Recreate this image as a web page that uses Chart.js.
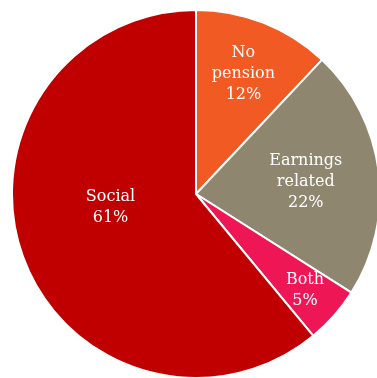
<!DOCTYPE html>
<html>
<head>
<meta charset="utf-8">
<script src="https://cdn.jsdelivr.net/npm/chart.js@4/dist/chart.umd.min.js"></script>
<style>
html,body{margin:0;padding:0;background:#fff;overflow:hidden;width:377px;height:378px;}
#wrap{position:absolute;left:0;top:0;width:382px;height:380px;}
</style>
</head>
<body>
<div id="wrap"><canvas id="c" width="382" height="380"></canvas></div>
<script>
const categories = ["No pension", "Earnings related", "Both", "Social"];
const labelLines = [["No", "pension"], ["Earnings", "related"], ["Both"], ["Social"]];
const values = [12, 22, 5, 61];
const colors = ["#F15A22", "#8F8670", "#EE1654", "#C00000"];

// label placement: fraction of radius and angle offset (deg) from slice middle
const labelPlace = [
  {frac: 0.70, dAng: 0},
  {frac: 0.60, dAng: 1},
  {frac: 0.79, dAng: 0},
  {frac: 0.47, dAng: 11}
];

const labelPlugin = {
  id: 'sliceLabels',
  afterDatasetsDraw(chart) {
    const ctx = chart.ctx;
    const meta = chart.getDatasetMeta(0);
    ctx.save();
    ctx.fillStyle = '#ffffff';
    ctx.font = '16px "DejaVu Serif", serif';
    ctx.textAlign = 'center';
    ctx.textBaseline = 'middle';
    meta.data.forEach((arc, i) => {
      const p = arc.getProps(['x','y','startAngle','endAngle','outerRadius'], true);
      const mid = (p.startAngle + p.endAngle) / 2 + labelPlace[i].dAng * Math.PI / 180;
      const r = p.outerRadius * labelPlace[i].frac;
      const cx = p.x + Math.cos(mid) * r;
      const cy = p.y + Math.sin(mid) * r;
      const lines = labelLines[i].concat([values[i] + '%']);
      const lh = 21;
      const y0 = cy - (lines.length - 1) * lh / 2;
      lines.forEach((t, k) => ctx.fillText(t, cx, y0 + k * lh));
    });
    ctx.restore();
  }
};

new Chart(document.getElementById('c'), {
  type: 'pie',
  data: {
    labels: categories,
    datasets: [{
      data: values,
      backgroundColor: colors,
      borderColor: '#ffffff',
      borderWidth: 2
    }]
  },
  options: {
    responsive: false,
    animation: false,
    layout: {padding: {left: 11, top: 9, right: 1, bottom: 1}},
    plugins: {legend: {display: false}, tooltip: {enabled: false}}
  },
  plugins: [labelPlugin]
});
</script>
</body>
</html>
